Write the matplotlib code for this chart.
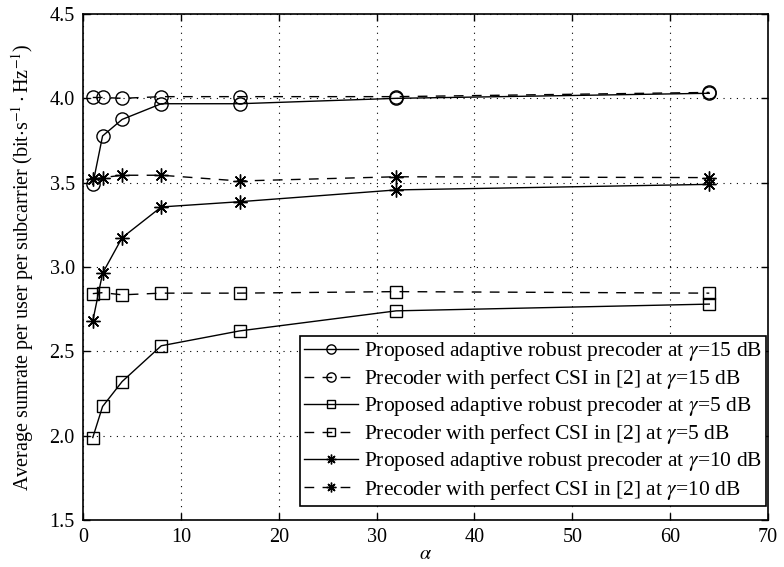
import matplotlib
matplotlib.use("Agg")
import matplotlib.pyplot as plt

plt.rcParams['font.family'] = ['Liberation Serif', 'DejaVu Serif']
plt.rcParams['mathtext.fontset'] = 'stix'

alpha = [1, 2, 4, 8, 16, 32, 64]
prop_15 = [3.49, 3.777, 3.875, 3.968, 3.968, 4.00, 4.03]
perf_15 = [4.005, 4.005, 4.00, 4.01, 4.01, 4.01, 4.035]
prop_5 = [1.989, 2.173, 2.321, 2.533, 2.621, 2.74, 2.78]
perf_5 = [2.842, 2.848, 2.835, 2.845, 2.845, 2.854, 2.845]
prop_10 = [2.68, 2.963, 3.174, 3.356, 3.387, 3.457, 3.49]
perf_10 = [3.52, 3.53, 3.544, 3.544, 3.51, 3.535, 3.53]

labels = [
    r'Proposed adaptive robust precoder at $\gamma$=15 dB',
    r'Precoder with perfect CSI in [2] at $\gamma$=15 dB',
    r'Proposed adaptive robust precoder at $\gamma$=5 dB',
    r'Precoder with perfect CSI in [2] at $\gamma$=5 dB',
    r'Proposed adaptive robust precoder at $\gamma$=10 dB',
    r'Precoder with perfect CSI in [2] at $\gamma$=10 dB',
]

fig = plt.figure(figsize=(7.84, 5.67), dpi=100)
ax = fig.add_axes([83/784, 1-520/567, (768-83)/784, (520-14)/567])

dash = (0, (7, 6))
star = (8, 2, 0)
kw = dict(color='black', linewidth=1.0, markerfacecolor='none', markeredgecolor='black', markeredgewidth=1.0)
ax.plot(alpha, prop_15, '-', marker='o', markersize=9.5, label=labels[0], **kw)
ax.plot(alpha, perf_15, linestyle=dash, marker='o', markersize=9.5, label=labels[1], **kw)
ax.plot(alpha, prop_5, '-', marker='s', markersize=8.5, label=labels[2], **kw)
ax.plot(alpha, perf_5, linestyle=dash, marker='s', markersize=8.5, label=labels[3], **kw)
ax.plot(alpha, prop_10, '-', marker=star, markersize=10, label=labels[4], **kw)
ax.plot(alpha, perf_10, linestyle=dash, marker=star, markersize=10, label=labels[5], **kw)

ax.set_xlim(0, 70)
ax.set_ylim(1.5, 4.5)
ax.set_xticks(range(0, 71, 10))
ax.set_yticks([1.5, 2.0, 2.5, 3.0, 3.5, 4.0, 4.5])
ax.set_yticklabels(['1.5', '2.0', '2.5', '3.0', '3.5', '4.0', '4.5'])
ax.tick_params(direction='in', top=True, right=True, labelsize=14.5, length=5, width=1, pad=6)
ax.grid(True, linestyle=(0, (1, 5)), color='black', linewidth=0.8)
for s in ax.spines.values():
    s.set_linewidth(1.2)

ax.set_xlabel(r'$\alpha$', fontsize=14.5, labelpad=-2)
ax.set_ylabel(r'Average sumrate per user per subcarrier (bit$\cdot$s$^{-1}\cdot$Hz$^{-1}$)', fontsize=14.5, labelpad=10)

leg = ax.legend(loc='lower right', bbox_to_anchor=(0.997, 0.028), fontsize=15.5, frameon=True,
                fancybox=False, edgecolor='black', framealpha=1, borderpad=0.2, labelspacing=0.19,
                handlelength=2.5, handletextpad=0.25, borderaxespad=0.0, markerscale=0.7)
leg.get_frame().set_linewidth(1.2)

fig.savefig('out.png', dpi=100)
